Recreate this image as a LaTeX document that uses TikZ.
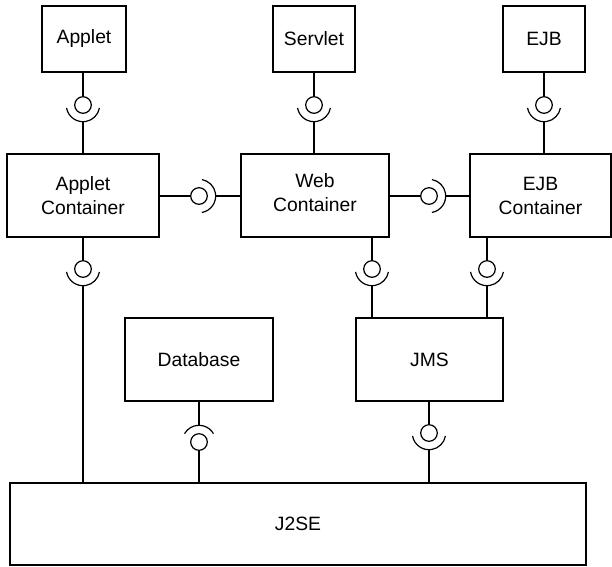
\documentclass[tikz,border=0pt]{standalone}
\usepackage{fontspec}
\setmainfont{Liberation Sans}
\usetikzlibrary{calc}
\tikzset{
  comp/.style={draw, line width=1.2pt, minimum height=83pt, align=center, inner sep=0pt,
    font=\fontsize{19.3}{24}\selectfont},
  conn/.style={line width=1.2pt}
}
\newcommand\ballsock[3]{%
  \draw[conn] (#1) circle[radius=8.3pt];
  \draw[conn] ($(#1)+(#2:16.7pt)$) arc[start angle=#2, end angle=#3, radius=16.7pt];}
\begin{document}
\begin{tikzpicture}[x=1pt,y=-1pt]
\useasboundingbox (0,0) rectangle (612,566);
% components
\node[comp, minimum width=84pt, minimum height=66pt] (applet) at (84,39) {Applet};
\node[comp, minimum width=82pt, minimum height=66pt] (servlet) at (314,39) {Servlet};
\node[comp, minimum width=82pt, minimum height=66pt] (ejb) at (544,39) {EJB};
\node[comp, minimum width=152pt] (appletc) at (83,195.5) {Applet\\Container};
\node[comp, minimum width=148pt, text depth=6pt] (web) at (315,195.5) {Web\\Container};
\node[comp, minimum width=141pt] (ejbc) at (540.5,195.5) {EJB\\Container};
\node[comp, minimum width=148pt] (db) at (199,359.5) {Database};
\node[comp, minimum width=147pt] (jms) at (429.5,359.5) {JMS};
\node[comp, minimum width=576pt, minimum height=82pt] (j2se) at (298,524) {J2SE};
% ball centres
\coordinate (b1) at (83,105);
\coordinate (b2) at (314,105);
\coordinate (b3) at (544,105);
\coordinate (b4) at (199,196);
\coordinate (b5) at (429,196);
\coordinate (b6) at (83,269);
\coordinate (b7) at (372,269);
\coordinate (b8) at (487,269);
\coordinate (b9) at (199,442);
\coordinate (b10) at (429,433);
% vertical, ball above, socket below
\foreach \b/\a/\c in {b1/applet/appletc, b2/servlet/web, b3/ejb/ejbc, b6/appletc/j2se, b7/web/jms, b8/ejbc/jms, b10/jms/j2se}{
  \draw[conn] (\a.south -| \b) -- ($(\b)+(0pt,8.3pt)$);
  \draw[conn] ($(\b)+(0pt,-16.7pt)$) -- (\c.north -| \b);
  \ballsock{\b}{190}{350}
}
% horizontal, ball left, socket right
\foreach \b/\a/\c in {b4/appletc/web, b5/web/ejbc}{
  \draw[conn] (\a.east |- \b) -- ($(\b)+(-8.3pt,0pt)$);
  \draw[conn] ($(\b)+(16.7pt,0pt)$) -- (\c.west |- \b);
  \ballsock{\b}{-80}{80}
}
% database: socket above, ball below
\draw[conn] (db.south -| b9) -- ($(b9)+(0pt,16.7pt)$);
\draw[conn] ($(b9)+(0pt,-8.3pt)$) -- (j2se.north -| b9);
\ballsock{b9}{30}{150}
\end{tikzpicture}
\end{document}
